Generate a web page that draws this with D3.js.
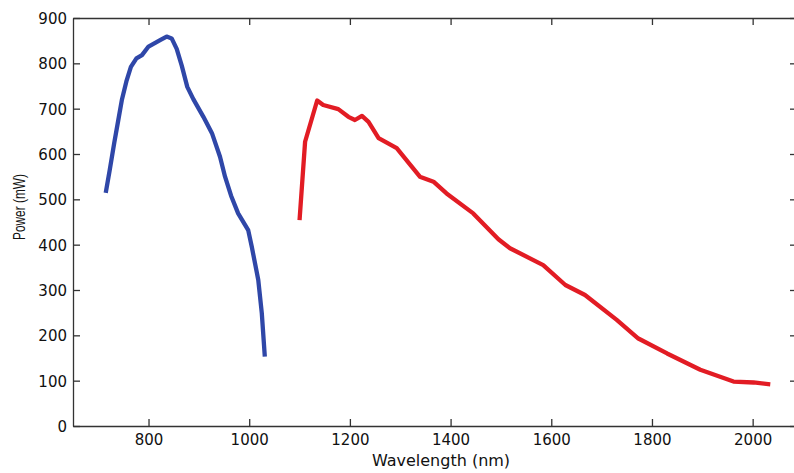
<!DOCTYPE html>
<html>
<head>
<meta charset="utf-8">
<script src="https://cdn.jsdelivr.net/npm/d3@7"></script>
<style>
    body { margin: 0; background: #fff; }
    svg { display: block; overflow: hidden; }
</style>
</head>
<body>
<svg id="power-chart"></svg>
<script>
// Blue band (short wavelength)
const blueWavelength = [715, 723, 732, 740, 747, 756, 765, 776, 787, 800, 823, 836, 846, 856, 866, 877, 889, 909, 926, 942, 952, 964, 978, 998, 1005, 1018, 1025, 1031];
const bluePower = [514, 565, 625, 675, 719, 760, 792, 811, 818, 837, 851, 859, 855, 832, 795, 748, 721, 682, 646, 594, 550, 508, 469, 432, 396, 322, 249, 153];

// Red band (long wavelength)
const redWavelength = [1100, 1111, 1135, 1147, 1177, 1197, 1210, 1224, 1237, 1257, 1293, 1320, 1339, 1366, 1392, 1445, 1495, 1518, 1584, 1628, 1667, 1730, 1773, 1830, 1896, 1962, 2002, 2035];
const redPower = [454, 627, 718, 708, 699, 682, 675, 684, 671, 635, 613, 576, 550, 539, 513, 469, 412, 392, 355, 311, 289, 234, 193, 160, 124, 98, 96, 92];

const xTicks = [800, 1000, 1200, 1400, 1600, 1800, 2000];
const yTicks = [0, 100, 200, 300, 400, 500, 600, 700, 800, 900];

function drawChart() {
    const width = 794;
    const height = 473;
    const left = 73, right = 803, top = 18, bottom = 426;
    const axisColor = "#333";

    const xScale = d3.scaleLinear()
        .domain([650, 2100])
        .range([left, right]);

    const yScale = d3.scaleLinear()
        .domain([0, 900])
        .range([bottom, top]);

    const svg = d3.select("#power-chart")
        .attr("width", width)
        .attr("height", height);

    // ticks point inward, matlab style
    const xAxis = d3.axisBottom(xScale).tickValues(xTicks).tickSize(-7).tickSizeOuter(0).tickPadding(8).tickFormat(d3.format("d"));
    const yAxis = d3.axisLeft(yScale).tickValues(yTicks).tickSize(-7).tickSizeOuter(0).tickPadding(6).tickFormat(d3.format("d"));
    const xTop = d3.axisTop(xScale).tickValues(xTicks).tickSize(-7).tickSizeOuter(0).tickFormat("");
    const yRight = d3.axisRight(yScale).tickValues(yTicks).tickSize(-7).tickSizeOuter(0).tickFormat("");

    const gx = svg.append("g")
        .attr("transform", `translate(0, ${bottom})`)
        .call(xAxis);
    const gy = svg.append("g")
        .attr("transform", `translate(${left}, 0)`)
        .call(yAxis);
    const gt = svg.append("g")
        .attr("transform", `translate(0, ${top})`)
        .call(xTop);
    const gr = svg.append("g")
        .attr("transform", `translate(797, 0)`)
        .call(yRight);

    [gx, gy, gt, gr].forEach(g => {
        g.selectAll("path, line").attr("stroke", axisColor).attr("stroke-width", 1.3);
        g.selectAll("text")
            .attr("fill", "#111")
            .style("font-family", "'DejaVu Sans', sans-serif")
            .style("font-size", "15px");
    });
    gy.selectAll(".tick text").attr("dy", "0.36em");

    const line = d3.line()
        .x(d => xScale(d[0]))
        .y(d => yScale(d[1]));

    const blue = blueWavelength.map((w, i) => [w, bluePower[i]]);
    const red = redWavelength.map((w, i) => [w, redPower[i]]);

    svg.append("path")
        .datum(blue)
        .attr("fill", "none")
        .attr("stroke", "#2f47a8")
        .attr("stroke-width", 4.3)
        .attr("stroke-linejoin", "round")
        .attr("d", line);

    svg.append("path")
        .datum(red)
        .attr("fill", "none")
        .attr("stroke", "#e21c24")
        .attr("stroke-width", 4.3)
        .attr("stroke-linejoin", "round")
        .attr("d", line);

    // x-axis label
    svg.append("text")
        .attr("x", 441)
        .attr("y", 466)
        .style("text-anchor", "middle")
        .style("font-family", "'DejaVu Sans', sans-serif")
        .style("font-size", "16px")
        .attr("fill", "#111")
        .text("Wavelength (nm)");

    // y-axis label
    svg.append("text")
        .attr("transform", "translate(25, 207) rotate(-90)")
        .style("text-anchor", "middle")
        .style("font-family", "'Liberation Sans', Arial, sans-serif")
        .style("font-size", "16px")
        .attr("textLength", 66)
        .attr("lengthAdjust", "spacingAndGlyphs")
        .attr("fill", "#111")
        .text("Power (mW)");
}
drawChart();
</script>
</body>
</html>
